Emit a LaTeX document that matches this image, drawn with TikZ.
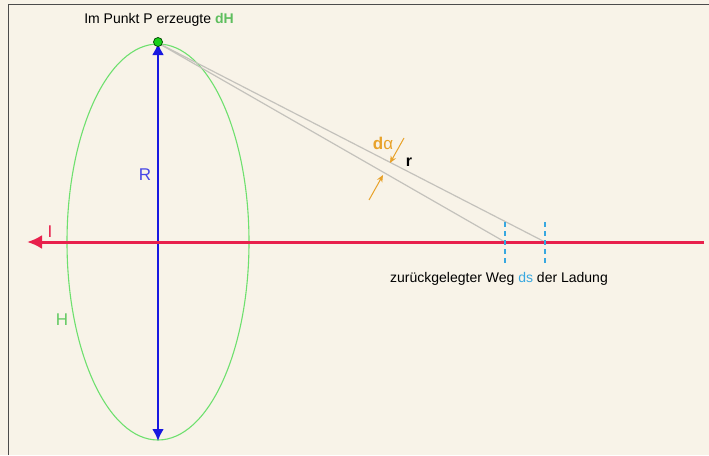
\documentclass[tikz,border=0pt]{standalone}
\usepackage{fontspec}
\setmainfont{Liberation Sans}
\usepackage{xcolor}
\usetikzlibrary{arrows.meta}

\definecolor{paper}{HTML}{F8F3E8}
\definecolor{fieldgreen}{HTML}{6EE06E}
\definecolor{radiusblue}{HTML}{1818E0}
\definecolor{currentred}{HTML}{E8204C}
\definecolor{pathblue}{HTML}{38A8E0}
\definecolor{angleorange}{HTML}{E8A22A}
\definecolor{raygray}{HTML}{C4C2BC}

\tikzset{
  lbl/.style={font=\fontsize{14}{16}\selectfont, inner sep=1pt},
  biglbl/.style={font=\fontsize{17}{19}\selectfont, inner sep=1pt},
  ray/.style={raygray, line width=1.2pt},
  dsmark/.style={pathblue, line width=1.3pt, dash pattern=on 5pt off 4pt},
  anglearrow/.style={angleorange, line width=1pt, -{Stealth[length=7pt,width=6pt]}}
}

\begin{document}
\begin{tikzpicture}[x=1pt,y=-1pt]
  \useasboundingbox (0,0) rectangle (709,455);
  \fill[paper] (0,0) rectangle (709,455);
  \draw[black!70, line width=1pt] (8,455) -- (8,4) -- (709,4);

  % field circle and radius
  \coordinate (M) at (158,242);
  \coordinate (P) at (158,43);
  \coordinate (B) at (158,441);
  \draw[fieldgreen, line width=1.1pt] (M) ellipse (91 and 198);
  \draw[radiusblue, line width=2.6pt, {Latex[length=12pt,width=12pt]}-{Latex[length=12pt,width=12pt]}] (P) -- (B);

  % rays from P to the two ends of ds
  \coordinate (S1) at (505,242);
  \coordinate (S2) at (545,242);
  \draw[ray] (P) -- (S1);
  \draw[ray] (P) -- (S2);

  % current
  \coordinate (E) at (704,242);
  \coordinate (T) at (27,242);
  \draw[currentred, line width=3pt, -{Latex[length=15pt,width=14pt]}] (E) -- (T);

  % ds marks
  \draw[dsmark] (505,222) -- (505,264);
  \draw[dsmark] (545,222) -- (545,264);

  % point P
  \node[circle, fill=green!80!black!90, draw=green!25!black, line width=0.7pt, minimum size=9pt, inner sep=0pt] (dot) at (158,42) {};

  % angle arrows
  \coordinate (A1) at (404,138);
  \coordinate (A2) at (390,163);
  \coordinate (A3) at (369,200);
  \coordinate (A4) at (383,175);
  \draw[anglearrow] (A1) -- (A2);
  \draw[anglearrow] (A3) -- (A4);

  % labels
  \node[lbl] (ptext) at (159,20) {Im Punkt P erzeugte \textcolor{fieldgreen!85!black}{\textbf{dH}}};
  \node[lbl] (wtext) at (499,279) {zurückgelegter Weg \textcolor{pathblue}{ds} der Ladung};
  \node[biglbl, text=angleorange] (dalpha) at (383,143) {\textbf{d}α};
  \node[lbl, font=\fontsize{16}{18}\selectfont\bfseries] (rlbl) at (409,162) {r};
  \node[biglbl, text=radiusblue!80!white] (Rlbl) at (145,175) {R};
  \node[biglbl, text=fieldgreen!90!black] (Hlbl) at (62,320) {H};
  \node[biglbl, text=currentred] (Ilbl) at (50,232) {I};
\end{tikzpicture}
\end{document}
